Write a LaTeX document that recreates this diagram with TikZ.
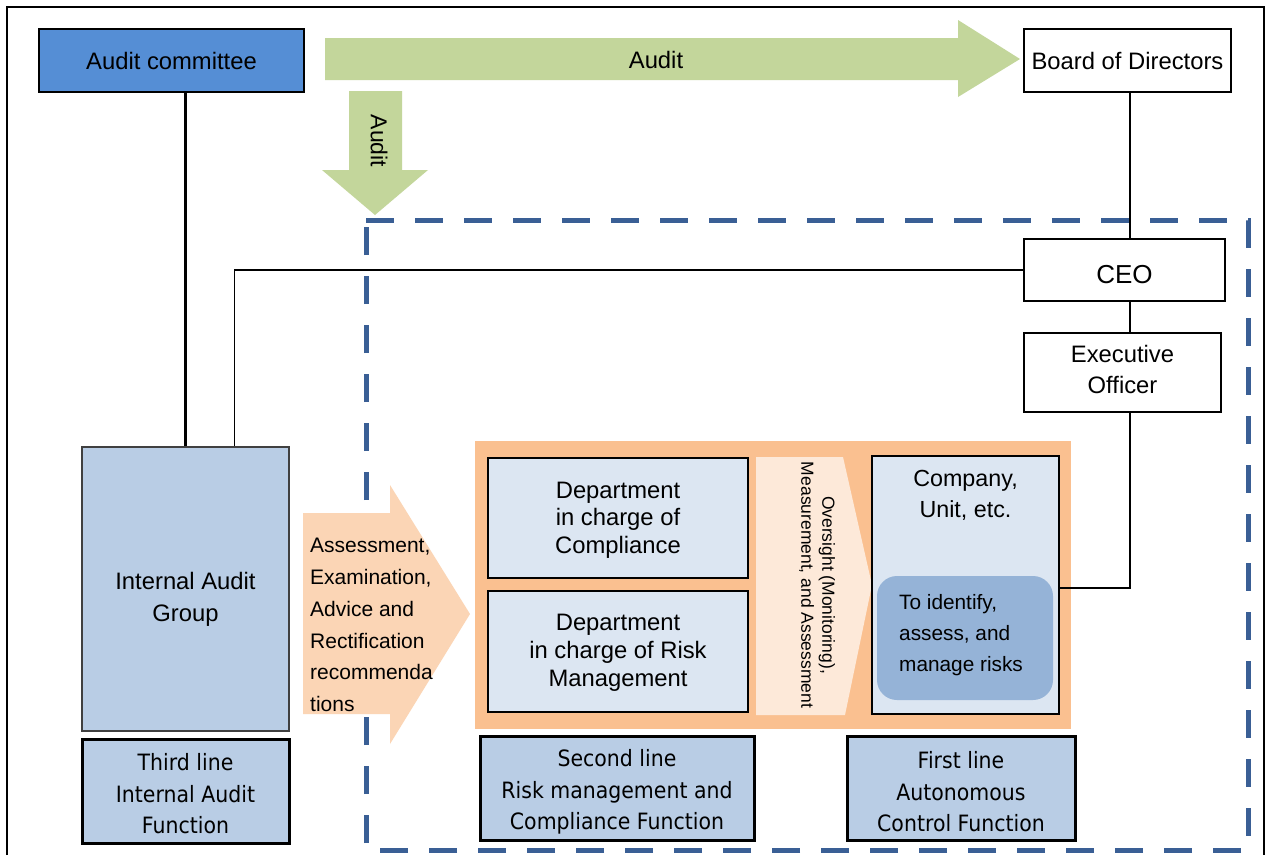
\documentclass[tikz,border=0pt]{standalone}
\usepackage{fontspec}
\setmainfont{Liberation Sans}
\newfontfamily\tah[FakeStretch=0.91]{DejaVu Sans}
\usetikzlibrary{calc}
\definecolor{acblue}{RGB}{85,142,213}
\definecolor{lblue}{RGB}{185,205,229}
\definecolor{pblue}{RGB}{220,230,242}
\definecolor{mblue}{RGB}{149,179,215}
\definecolor{green}{RGB}{195,214,155}
\definecolor{orarrow}{RGB}{251,213,181}
\definecolor{orpanel}{RGB}{250,192,144}
\definecolor{orlight}{RGB}{253,233,217}
\definecolor{dashblue}{RGB}{58,95,149}
\newcommand\fsz[2]{\fontsize{#1}{#2}\selectfont}
\begin{document}
\begin{tikzpicture}[x=1pt,y=-1pt,
  box/.style={draw=black,line width=1.5pt,inner sep=0pt,align=center,font=\fsz{23.8}{31}},
  linebox/.style={draw=black,line width=3pt,fill=lblue,inner sep=0pt,align=center,minimum height=104pt},
  linetext/.style={font=\tah\fsz{22.5}{31.5},align=center,inner sep=0pt},
  conn/.style={draw=black,line width=1.5pt},
  thickconn/.style={draw=black,line width=3pt}]
\useasboundingbox (0,0) rectangle (1270,855);
\fill[white] (0,0) rectangle (1270,855);
\draw[line width=1.5pt] (7,855) -- (7,7) -- (1264,7) -- (1264,855);

% top nodes
\node[box,fill=acblue,minimum width=265pt,minimum height=63pt] (ac) at (171.5,60.5) {Audit committee};
\node[box,fill=white,minimum width=207pt,minimum height=63pt] (board) at (1127.5,60.5) {Board of Directors};
\node[box,fill=white,minimum width=201pt,minimum height=62pt] (ceo) at (1124.5,270) {};
\node[font=\fsz{26}{31}] (ceot) at (1124.5,275) {CEO};
\node[box,fill=white,minimum width=197pt,minimum height=79pt] (exec) at (1122.5,372.5) {};
\node[font=\fsz{23.8}{31},align=center] (exect) at (1122.5,369.5) {Executive\\Officer};

% green arrows
\path[fill=green] (325,38) -- (958,38) -- (958,20) -- (1020,59) -- (958,97) -- (958,80) -- (325,80) -- cycle;
\node[font=\fsz{23.8}{28}] (auditr) at (656,60) {Audit};
\path[fill=green] (349,91) -- (402,91) -- (402,170) -- (428,170) -- (375,215) -- (322,170) -- (349,170) -- cycle;
\node[font=\fsz{23}{26},rotate=-90] (auditd) at (379,141) {Audit};

% dashed region
\draw[dashblue,line width=5pt,dash pattern=on 28pt off 21pt] (366,220) -- (1248,220) -- (1248,850) -- (366,850) -- cycle;

% internal audit group
\node[box,draw=black!75,fill=lblue,minimum width=207pt,minimum height=284pt] (iag) at (185.5,589) {};
\node[font=\fsz{23.8}{32},align=center] (iagt) at (185.5,599) {Internal Audit\\Group};

% orange arrow
\path[fill=orarrow] (303,513) -- (390,513) -- (390,485) -- (470,614) -- (390,744) -- (390,714) -- (303,714) -- cycle;
\node[font=\fsz{21}{31.8},align=left,anchor=north west,inner sep=0pt] (assess) at (310,538) {Assessment,\\Examination,\\Advice and\\Rectification\\recommenda\\tions};

% orange panel
\path[fill=orpanel] (475,441) rectangle (1071,729);
\node[box,fill=pblue,minimum width=260pt,minimum height=120pt] (comp) at (618,518) {};
\node[font=\fsz{23.8}{27.5},align=center] (compt) at (618,520) {Department\\in charge of\\Compliance};
\node[box,fill=pblue,minimum width=260pt,minimum height=121pt] (risk) at (618,651.5) {};
\node[font=\fsz{23.8}{28},align=center] (riskt) at (618,653) {Department\\in charge of Risk\\Management};
\path[fill=orlight] (756,457) -- (843,457) -- (872,585) -- (845,715) -- (756,715) -- cycle;
\node[rotate=-90,align=center,font=\fsz{17.5}{21}] (over) at (817,585) {Oversight (Monitoring),\\Measurement, and Assessment};
\node[box,fill=pblue,minimum width=187pt,minimum height=258pt] (company) at (965.5,585) {};
\node[font=\fsz{23.3}{31},align=center] (compt2) at (965.5,495) {Company,\\Unit, etc.};
\node[fill=mblue,rounded corners=20pt,minimum width=176pt,minimum height=124pt,inner sep=0pt] (manage) at (965,638) {};
\node[font=\fsz{20.8}{31},align=left,anchor=west,inner sep=0pt] (managet) at (899,635) {To identify,\\assess, and\\manage risks};

% bottom line boxes
\node[linebox,minimum width=207pt] (third) at (185.5,791) {};
\node[linetext] (thirdt) at (185.5,794) {Third line\\Internal Audit\\Function};
\node[linebox,minimum width=274pt] (second) at (617,788) {};
\node[linetext] (secondt) at (617,792) {Second line\\Risk management and\\Compliance Function};
\node[linebox,minimum width=228pt] (first) at (961,788) {};
\node[linetext] (firstt) at (961,792) {First line\\Autonomous\\Control Function};

% connectors
\draw[thickconn] (iag.north |- ac.south) -- (iag.north);
\coordinate (iagtap) at ($(iag.north west)!0.734!(iag.north east)$);
\draw[conn] (ceo.west) -| (iagtap);
\coordinate (vline) at ($(board.south)+(2.5,0)$);
\draw[conn] (vline) -- (vline |- ceo.north);
\draw[conn] (vline |- ceo.south) -- (vline |- exec.north);
\draw[conn] (vline |- exec.south) |- ($(company.east)+(0,3)$);
\end{tikzpicture}
\end{document}
